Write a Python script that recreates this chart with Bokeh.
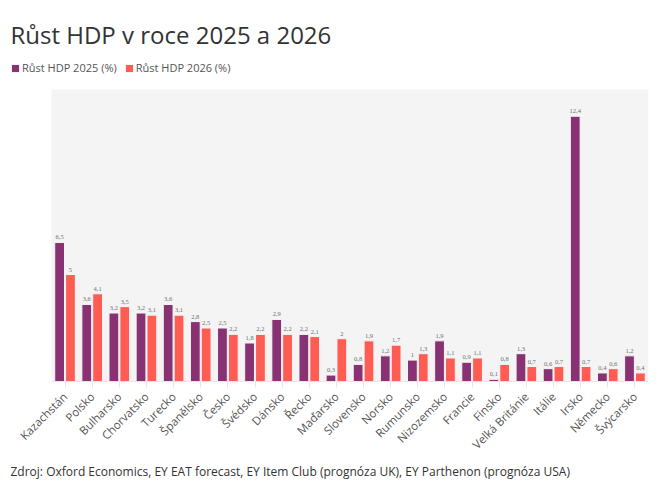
from bokeh.plotting import figure
from bokeh.models import (Range1d, ColumnDataSource, Legend, LegendItem, Title, LabelSet,
                          FixedTicker)
from bokeh.embed import file_html
from bokeh.resources import INLINE
from math import pi

countries = ["Kazachstán", "Polsko", "Bulharsko", "Chorvatsko", "Turecko", "Španělsko",
             "Česko", "Švédsko", "Dánsko", "Řecko", "Maďarsko", "Slovensko", "Norsko",
             "Rumunsko", "Nizozemsko", "Francie", "Finsko", "Velká Británie", "Itálie",
             "Irsko", "Německo", "Švýcarsko"]
gdp_2025 = [6.5, 3.6, 3.2, 3.2, 3.6, 2.8, 2.5, 1.8, 2.9, 2.2, 0.3, 0.8, 1.2, 1, 1.9,
            0.9, 0.1, 1.3, 0.6, 12.4, 0.4, 1.2]
gdp_2026 = [5, 4.1, 3.5, 3.1, 3.1, 2.5, 2.2, 2.2, 2.2, 2.1, 2, 1.9, 1.7, 1.3, 1.1,
            1.1, 0.8, 0.7, 0.7, 0.7, 0.6, 0.4]
series_names = ["Růst HDP 2025 (%)", "Růst HDP 2026 (%)"]
title_text = "Růst HDP v roce 2025 a 2026"
source_text = "Zdroj: Oxford Economics, EY EAT forecast, EY Item Club (prognóza UK), EY Parthenon (prognóza USA)"


def fmt(v):
    return ("%g" % v).replace(".", ",")


n = len(countries)
centers = [i + 0.5 for i in range(n)]
src = ColumnDataSource(dict(
    xa=[c - 0.2 for c in centers], xb=[c + 0.2 for c in centers],
    a=gdp_2025, b=gdp_2026,
    la=[fmt(v) for v in gdp_2025], lb=[fmt(v) for v in gdp_2026]))

FONT = "Open Sans"
FH = 326          # frame height in px (frame top above the grey area)
GREY_TOP = 13.65  # top of the grey plot area, in data units
Y_END = GREY_TOP * FH / 292.0

p = figure(x_range=Range1d(-1.51, n), y_range=Range1d(0, Y_END),
           frame_width=638, frame_height=FH, output_backend="svg", toolbar_location=None,
           min_border_left=10, min_border_right=20, min_border_top=55, min_border_bottom=0,
           background_fill_color="white", border_fill_color="white", outline_line_color=None)

# grey plotting area behind the bars
p.quad(left=[0], right=[n], bottom=[0], top=[GREY_TOP], fill_color="#f4f4f4",
       line_color=None, level="underlay")

p.title.text = title_text
p.title.text_font = FONT
p.title.text_font_size = "24px"
p.title.text_font_style = "normal"
p.title.text_color = "#333333"
p.title.offset = 0
p.title.standoff = 10

r1 = p.vbar(x="xa", top="a", width=0.36, source=src,
            fill_color="#883173", line_color="#f4f4f4", line_width=1)
r2 = p.vbar(x="xb", top="b", width=0.36, source=src,
            fill_color="#ff5c53", line_color="#f4f4f4", line_width=1)

lab_style = dict(text_font=FONT, text_font_size="6.5px", text_color="#707070",
                 text_align="center", text_baseline="bottom", y_offset=3, source=src)
p.add_layout(LabelSet(x="xa", y="a", text="la", **lab_style))
p.add_layout(LabelSet(x="xb", y="b", text="lb", **lab_style))

legend = Legend(items=[LegendItem(label=series_names[0], renderers=[r1]),
                       LegendItem(label=series_names[1], renderers=[r2])],
                orientation="horizontal", location=(0, FH - 20),
                glyph_width=10, glyph_height=10, label_height=10,
                label_text_font_size="11px",
                label_text_font=FONT, label_text_color="#555555",
                label_standoff=2, spacing=7, padding=0, margin=0,
                border_line_color=None, background_fill_alpha=0)
p.add_layout(legend, "center")

p.yaxis.visible = False
p.xgrid.grid_line_color = None
p.ygrid.grid_line_color = None
p.xaxis.bounds = (0, n)
p.xaxis.ticker = FixedTicker(ticks=centers)
p.xaxis.major_label_overrides = {c: name for c, name in zip(centers, countries)}
p.xaxis.axis_line_color = "#e6e6e6"
p.xaxis.major_tick_line_color = "#e6e6e6"
p.xaxis.major_tick_out = 6
p.xaxis.major_tick_in = 0
p.xaxis.minor_tick_line_color = None
p.xaxis.major_label_orientation = pi / 4
p.xaxis.major_label_standoff = 7
p.xaxis.major_label_text_font = FONT
p.xaxis.major_label_text_font_size = "11.5px"
p.xaxis.major_label_text_color = "#555555"

p.add_layout(Title(text=source_text, text_font=FONT, text_font_size="12px",
                   text_font_style="normal", text_color="#333333", offset=0, standoff=0),
             "below")

open("out.html", "w").write(file_html(p, INLINE))
